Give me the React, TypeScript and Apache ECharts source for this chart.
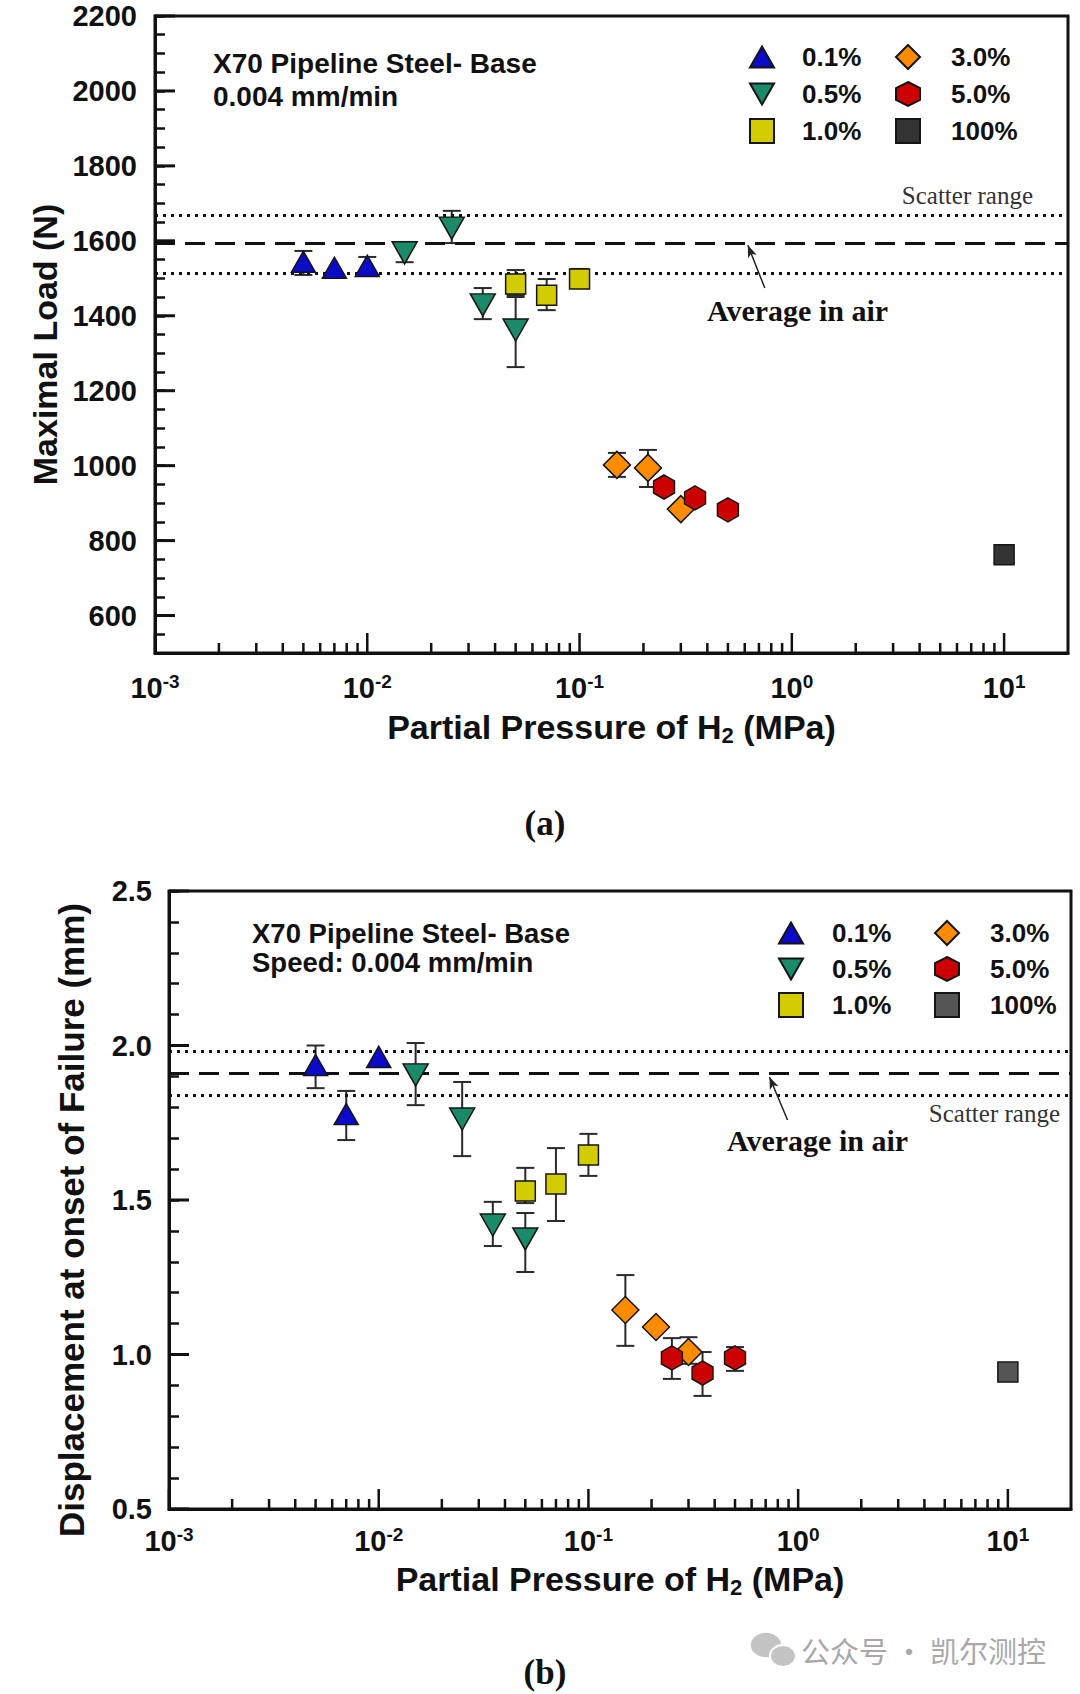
import React, { useEffect, useRef } from "react";
import * as echarts from "echarts";

const SANS = "'Liberation Sans', Arial, Helvetica, sans-serif";
const SERIF = "'Liberation Serif', 'Times New Roman', serif";
const CJK = "'Noto Sans CJK SC', sans-serif";

// ---- axes ----
const X_MIN = 0.001;
const X_MAX = 20;
const X_DECADES = [0.001, 0.01, 0.1, 1, 10];
const X_MINOR_STEPS = [2, 3, 4, 5, 6, 7, 8, 9];

const A_Y_MIN = 500;
const A_Y_MAX = 2200;
const A_Y_STEP = 50;
const A_Y_MAJOR = [600, 800, 1000, 1200, 1400, 1600, 1800, 2000, 2200];

const B_Y_MIN = 0.5;
const B_Y_MAX = 2.5;
const B_Y_STEP = 0.1;
const B_Y_MAJOR = [0.5, 1.0, 1.5, 2.0, 2.5];

const LEGEND_COL1 = ["0.1%", "0.5%", "1.0%"];
const LEGEND_COL2 = ["3.0%", "5.0%", "100%"];

// ---- (a) Maximal load (N) ----
const A_P_01 = [0.005, 0.007, 0.01];
const A_LOAD_01 = [1544, 1528, 1533];
const A_ERR_01 = [[1509, 1573], null, [1510, 1557]];
const A_P_05 = [0.015, 0.025, 0.035, 0.05];
const A_LOAD_05 = [1568, 1634, 1429, 1362];
const A_ERR_05 = [[1543, 1597], [1594, 1680], [1391, 1474], [1263, 1455]];
const A_P_10 = [0.05, 0.07, 0.1];
const A_LOAD_10 = [1485, 1455, 1498];
const A_ERR_10 = [[1450, 1522], [1415, 1498], [1475, 1525]];
const A_P_30 = [0.15, 0.21, 0.3];
const A_LOAD_30 = [1002, 994, 884];
const A_ERR_30 = [[970, 1034], [943, 1042], null];
const A_P_50 = [0.25, 0.35, 0.5];
const A_LOAD_50 = [943, 914, 882];
const A_ERR_50 = [null, null, null];
const A_P_100 = [10];
const A_LOAD_100 = [762];
const A_AIR_HI = 1669;
const A_AIR_AVG = 1594;
const A_AIR_LO = 1514;
const A_ARROW_FROM = [0.746, 1474];
const A_ARROW_TO = [0.621, 1588];

// ---- (b) Displacement at onset of failure (mm) ----
const B_P_01 = [0.005, 0.007, 0.01];
const B_DISP_01 = [1.937, 1.778, 1.963];
const B_ERR_01 = [[1.862, 2.0], [1.694, 1.853], null];
const B_P_05 = [0.015, 0.025, 0.035, 0.05];
const B_DISP_05 = [1.905, 1.762, 1.419, 1.374];
const B_ERR_05 = [[1.807, 2.008], [1.642, 1.882], [1.351, 1.494], [1.267, 1.458]];
const B_P_10 = [0.05, 0.07, 0.1];
const B_DISP_10 = [1.529, 1.552, 1.646];
const B_ERR_10 = [[1.49, 1.604], [1.432, 1.668], [1.578, 1.714]];
const B_P_30 = [0.15, 0.21, 0.3];
const B_DISP_30 = [1.144, 1.089, 1.008];
const B_ERR_30 = [[1.028, 1.257], null, [0.97, 1.056]];
const B_P_50 = [0.25, 0.35, 0.5];
const B_DISP_50 = [0.989, 0.94, 0.989];
const B_ERR_50 = [[0.921, 1.053], [0.866, 1.008], [0.947, 1.024]];
const B_P_100 = [10];
const B_DISP_100 = [0.943];
const B_AIR_HI = 1.976;
const B_AIR_AVG = 1.908;
const B_AIR_LO = 1.843;
const B_ARROW_FROM = [0.89, 1.759];
const B_ARROW_TO = [0.73, 1.898];

// ---- styles ----
const TRI_UP = "path://M0.5,0 L1,0.866 L0,0.866 Z";
const TRI_DOWN = "path://M0,0 L1,0 L0.5,0.866 Z";
const HEXAGON = "path://M0.5,0 L1,0.25 L1,0.75 L0.5,1 L0,0.75 L0,0.25 Z";

const pts = (xs: number[], ys: number[]) => xs.map((x, i) => [x, ys[i]]);
const errs = (xs: number[], es: any[]) =>
  xs.map((x, i) => (es[i] ? [x, es[i][0], es[i][1]] : null)).filter(Boolean);

const scatter = (name: string, data: any[], symbol: string, size: any, color: string, idx: number) => ({
  type: "scatter",
  name,
  xAxisIndex: idx,
  yAxisIndex: idx,
  data,
  symbol,
  symbolSize: size,
  z: 5,
  silent: true,
  itemStyle: { color, borderColor: "#151515", borderWidth: 1.5, opacity: 1 },
});

const errorBars = (data: any[], idx: number) => ({
  type: "custom",
  xAxisIndex: idx,
  yAxisIndex: idx,
  data,
  z: 4,
  silent: true,
  encode: { x: 0, y: [1, 2] },
  renderItem: (_p: any, api: any) => {
    const x = api.value(0);
    const lo = api.coord([x, api.value(1)]);
    const hi = api.coord([x, api.value(2)]);
    const w = 9;
    const st = { stroke: "#2a2a2a", lineWidth: 2 };
    return {
      type: "group",
      children: [
        { type: "line", shape: { x1: lo[0], y1: lo[1], x2: hi[0], y2: hi[1] }, style: st },
        { type: "line", shape: { x1: lo[0] - w, y1: lo[1], x2: lo[0] + w, y2: lo[1] }, style: st },
        { type: "line", shape: { x1: hi[0] - w, y1: hi[1], x2: hi[0] + w, y2: hi[1] }, style: st },
      ],
    };
  },
});

const xTicks = (yMin: number, idx: number) => {
  const data: number[][] = [];
  X_DECADES.forEach((d) => {
    data.push([d, yMin, 20]);
    X_MINOR_STEPS.forEach((m) => {
      const v = d * m;
      if (v < X_MAX) data.push([v, yMin, 10]);
    });
  });
  return {
    type: "custom",
    xAxisIndex: idx,
    yAxisIndex: idx,
    data,
    z: 6,
    silent: true,
    renderItem: (_p: any, api: any) => {
      const p = api.coord([api.value(0), api.value(1)]);
      const len = api.value(2);
      return {
        type: "line",
        shape: { x1: p[0], y1: p[1], x2: p[0], y2: p[1] - len },
        style: { stroke: "#111", lineWidth: 2.5 },
      };
    },
  };
};

const yTicks = (values: number[], idx: number) => ({
  type: "custom",
  xAxisIndex: idx,
  yAxisIndex: idx,
  data: values.map((v) => [X_MIN, v, 20]),
  z: 6,
  silent: true,
  renderItem: (_p: any, api: any) => {
    const p = api.coord([api.value(0), api.value(1)]);
    const len = api.value(2);
    return {
      type: "line",
      shape: { x1: p[0], y1: p[1], x2: p[0] + len, y2: p[1] },
      style: { stroke: "#111", lineWidth: 3 },
    };
  },
});

const refLines = (hi: number, avg: number, lo: number, from: number[], to: number[], idx: number) => ({
  type: "line",
  name: "ref" + idx,
  xAxisIndex: idx,
  yAxisIndex: idx,
  data: [],
  z: 3,
  silent: true,
  markLine: {
    silent: true,
    symbol: ["none", "none"],
    label: { show: false },
    animation: false,
    data: [
      { yAxis: hi, lineStyle: { type: [3, 5], width: 3, color: "#111" } },
      { yAxis: avg, lineStyle: { type: [20, 10], width: 3, color: "#111" } },
      { yAxis: lo, lineStyle: { type: [3, 5], width: 3, color: "#111" } },
      [
        { coord: from, symbol: "none", lineStyle: { type: "solid", width: 1.5, color: "#222" } },
        { coord: to, symbol: "arrow", symbolSize: [7, 12] },
      ],
    ],
  },
});

const xAxisOpt = (idx: number, margin: number, nameGap: number) => ({
  type: "log",
  gridIndex: idx,
  min: X_MIN,
  max: X_MAX,
  logBase: 10,
  splitLine: { show: false },
  axisTick: { show: false },
  axisLine: { show: true, lineStyle: { color: "#111", width: 3 } },
  axisLabel: {
    margin,
    showMinLabel: true,
    showMaxLabel: false,
    formatter: (v: number) => `{b|10}{s|${Math.round(Math.log10(v))}}`,
    rich: {
      b: { fontSize: 29, fontWeight: "bold", fontFamily: SANS, color: "#111", lineHeight: 32 },
      s: { fontSize: 19, fontWeight: "bold", fontFamily: SANS, color: "#111", lineHeight: 19, verticalAlign: "top" },
    },
  },
  name: "{n|Partial Pressure of H}{sub|2}{n| (MPa)}",
  nameLocation: "middle",
  nameGap,
  nameTextStyle: {
    rich: {
      n: { fontSize: 34, fontWeight: "bold", fontFamily: SANS, color: "#111", lineHeight: 38 },
      sub: { fontSize: 22, fontWeight: "bold", fontFamily: SANS, color: "#111", lineHeight: 22, verticalAlign: "bottom" },
    },
  },
});

const legend = (left: number, top: number, names: any[], gap: number, pad: number) => ({
  orient: "vertical",
  left,
  top,
  data: names,
  itemWidth: 24,
  itemHeight: 24,
  itemGap: gap,
  selectedMode: false,
  textStyle: {
    fontSize: 26,
    fontWeight: "bold",
    fontFamily: SANS,
    color: "#111",
    lineHeight: 24,
    padding: [0, 0, 0, pad],
  },
});

const txt = (text: string, x: number, y: number, font: any, align = "left") => ({
  type: "text",
  x,
  y,
  silent: true,
  style: { text, align, verticalAlign: "middle", fill: "#111", ...font },
});

export default function App() {
  const ref = useRef<HTMLDivElement>(null);
  useEffect(() => {
    if (!ref.current) return;
    const chart = echarts.init(ref.current, undefined, { renderer: "svg" });
    const labelA = { fontSize: 29, fontWeight: "bold", fontFamily: SANS, color: "#111" };
    const option: any = {
      animation: false,
      backgroundColor: "#fff",
      grid: [
        { left: 155, top: 16, width: 913, height: 637, show: true, borderColor: "#111", borderWidth: 3, backgroundColor: "transparent" },
        { left: 169, top: 891, width: 902, height: 618, show: true, borderColor: "#111", borderWidth: 3, backgroundColor: "transparent" },
      ],
      xAxis: [xAxisOpt(0, 19, 55), xAxisOpt(1, 16, 51)],
      yAxis: [
        {
          type: "value",
          gridIndex: 0,
          min: A_Y_MIN,
          max: A_Y_MAX,
          interval: A_Y_STEP,
          splitLine: { show: false },
          axisLine: { show: true, lineStyle: { color: "#111", width: 3 } },
          axisTick: { show: true, inside: true, length: 10, lineStyle: { color: "#111", width: 2.5 } },
          axisLabel: {
            ...labelA,
            margin: 18,
            formatter: (v: number) => (v % 200 === 0 && v >= 600 ? String(v) : ""),
          },
          name: "Maximal Load (N)",
          nameLocation: "middle",
          nameGap: 92,
          nameTextStyle: { fontSize: 34, fontWeight: "bold", fontFamily: SANS, color: "#111", padding: [0, 20, 0, 0] },
        },
        {
          type: "value",
          gridIndex: 1,
          min: B_Y_MIN,
          max: B_Y_MAX,
          interval: B_Y_STEP,
          splitLine: { show: false },
          axisLine: { show: true, lineStyle: { color: "#111", width: 3 } },
          axisTick: { show: true, inside: true, length: 10, lineStyle: { color: "#111", width: 2.5 } },
          axisLabel: {
            ...labelA,
            margin: 17,
            formatter: (v: number) => {
              const r = Math.round(v * 10) / 10;
              return Math.abs(r * 2 - Math.round(r * 2)) < 1e-9 ? r.toFixed(1) : "";
            },
          },
          name: "Displacement at onset of Failure (mm)",
          nameLocation: "middle",
          nameGap: 80,
          nameTextStyle: { fontSize: 35, fontWeight: "bold", fontFamily: SANS, color: "#111", padding: [0, 40, 0, 0] },
        },
      ],
      legend: [
        legend(744, 39, LEGEND_COL1, 11, 23),
        legend(890, 39, LEGEND_COL2, 11, 26),
        legend(773, 915, LEGEND_COL1, 10, 24),
        legend(929, 915, [{ name: "3.0%" }, { name: "5.0%" }, { name: "100%", itemStyle: { color: "#555555" } }], 10, 26),
      ],
      series: [
        refLines(A_AIR_HI, A_AIR_AVG, A_AIR_LO, A_ARROW_FROM, A_ARROW_TO, 0),
        refLines(B_AIR_HI, B_AIR_AVG, B_AIR_LO, B_ARROW_FROM, B_ARROW_TO, 1),
        errorBars(
          [
            ...errs(A_P_01, A_ERR_01),
            ...errs(A_P_05, A_ERR_05),
            ...errs(A_P_10, A_ERR_10),
            ...errs(A_P_30, A_ERR_30),
            ...errs(A_P_50, A_ERR_50),
          ],
          0
        ),
        errorBars(
          [
            ...errs(B_P_01, B_ERR_01),
            ...errs(B_P_05, B_ERR_05),
            ...errs(B_P_10, B_ERR_10),
            ...errs(B_P_30, B_ERR_30),
            ...errs(B_P_50, B_ERR_50),
          ],
          1
        ),
        scatter("0.1%", pts(A_P_01, A_LOAD_01), TRI_UP, [24, 21], "#0a0ac8", 0),
        scatter("0.5%", pts(A_P_05, A_LOAD_05), TRI_DOWN, [25, 22], "#1a8a68", 0),
        scatter("1.0%", pts(A_P_10, A_LOAD_10), "rect", [20, 20], "#d2cc00", 0),
        scatter("3.0%", pts(A_P_30, A_LOAD_30), "diamond", [27, 27], "#ff8c00", 0),
        scatter("5.0%", pts(A_P_50, A_LOAD_50), HEXAGON, [21, 24], "#cc0000", 0),
        scatter("100%", pts(A_P_100, A_LOAD_100), "rect", [20, 20], "#333333", 0),
        scatter("0.1%", pts(B_P_01, B_DISP_01), TRI_UP, [24, 21], "#0a0ac8", 1),
        scatter("0.5%", pts(B_P_05, B_DISP_05), TRI_DOWN, [25, 22], "#1a8a68", 1),
        scatter("1.0%", pts(B_P_10, B_DISP_10), "rect", [20, 20], "#d2cc00", 1),
        scatter("3.0%", pts(B_P_30, B_DISP_30), "diamond", [27, 27], "#ff8c00", 1),
        scatter("5.0%", pts(B_P_50, B_DISP_50), HEXAGON, [21, 24], "#cc0000", 1),
        scatter("100%", pts(B_P_100, B_DISP_100), "rect", [20, 20], "#555555", 1),
        xTicks(A_Y_MIN, 0),
        xTicks(B_Y_MIN, 1),
        yTicks(A_Y_MAJOR, 0),
        yTicks(B_Y_MAJOR, 1),
      ],
      graphic: [
        txt("X70 Pipeline Steel- Base", 213, 63, { fontSize: 28, fontWeight: "bold", fontFamily: SANS }),
        txt("0.004 mm/min", 213, 96, { fontSize: 28, fontWeight: "bold", fontFamily: SANS }),
        txt("Scatter range", 1033, 195, { fontSize: 25, fontFamily: SERIF, fill: "#333" }, "right"),
        txt("Average in air", 707, 310, { fontSize: 30, fontWeight: "bold", fontFamily: SERIF }),
        txt("(a)", 545, 823, { fontSize: 35, fontWeight: "bold", fontFamily: SERIF }, "center"),
        txt("X70 Pipeline Steel- Base", 252, 933, { fontSize: 27.5, fontWeight: "bold", fontFamily: SANS }),
        txt("Speed: 0.004 mm/min", 252, 962, { fontSize: 27.5, fontWeight: "bold", fontFamily: SANS }),
        txt("Scatter range", 1060, 1113, { fontSize: 25, fontFamily: SERIF, fill: "#333" }, "right"),
        txt("Average in air", 727, 1140, { fontSize: 30, fontWeight: "bold", fontFamily: SERIF }),
        txt("(b)", 545, 1672, { fontSize: 35, fontWeight: "bold", fontFamily: SERIF }, "center"),
        { type: "ellipse", silent: true, shape: { cx: 766, cy: 1645, rx: 16, ry: 13 }, style: { fill: "#c4c4c4", stroke: "#fff", lineWidth: 1.5 } },
        { type: "ellipse", silent: true, shape: { cx: 783, cy: 1656, rx: 13, ry: 11 }, style: { fill: "#c4c4c4", stroke: "#fff", lineWidth: 2 } },
        txt("公众号 · 凯尔测控", 801, 1650, { fontSize: 29, fontFamily: CJK, fill: "#a8a8a8" }),
      ],
    };
    chart.setOption(option);
    return () => chart.dispose();
  }, []);
  return (
    <div
      ref={ref}
      style={{ position: "absolute", left: 0, top: 0, width: 1080, height: 1694, background: "#fff" }}
    />
  );
}
